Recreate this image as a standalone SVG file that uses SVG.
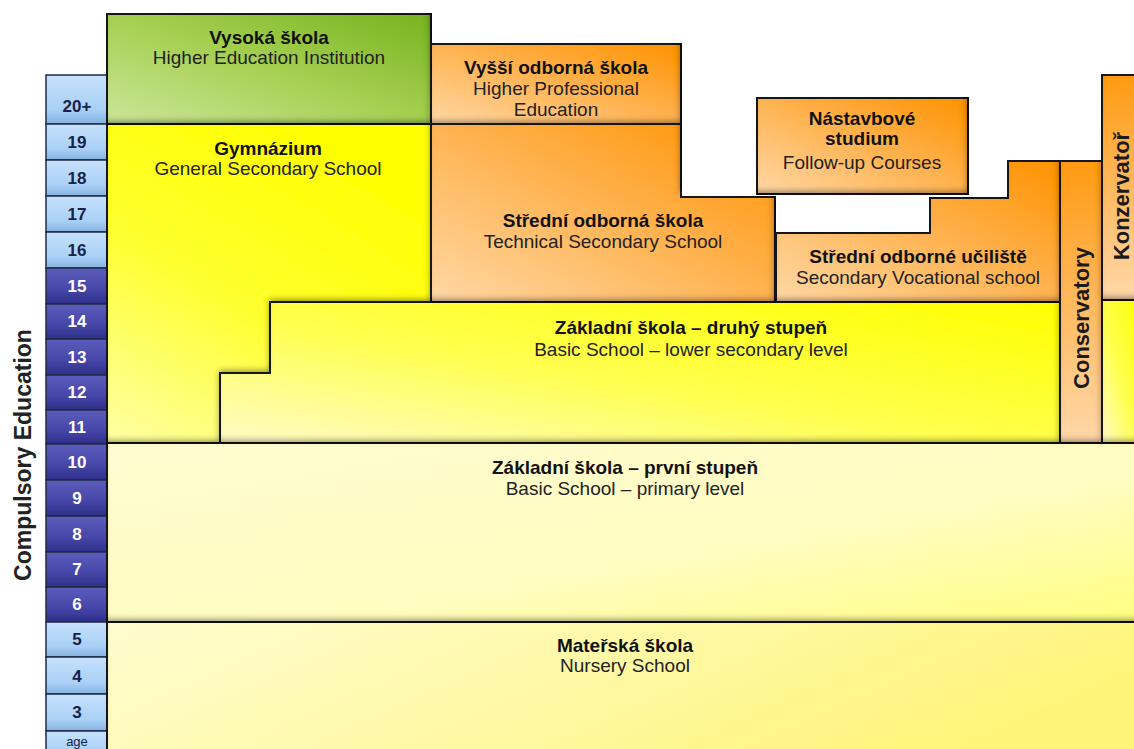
<svg xmlns="http://www.w3.org/2000/svg" width="1134" height="749" viewBox="0 0 1134 749">
<defs>
<style>
.t{font-family:"Liberation Sans",Arial,sans-serif;font-weight:bold;font-size:19px;fill:#111;text-anchor:middle}
.s{font-family:"Liberation Sans",Arial,sans-serif;font-size:19px;fill:#222;text-anchor:middle}
.v{font-family:"Liberation Sans",Arial,sans-serif;font-weight:bold;font-size:22px;fill:#1a1a1a;text-anchor:middle}
.box{stroke:#1b1b1b;stroke-width:2;filter:url(#ins)}
.cl{fill:url(#gLB);stroke:#1f2b45;stroke-width:1.5}
.cd{fill:url(#gDB);stroke:#1f2b45;stroke-width:1.5}
.al{font-family:"Liberation Sans",Arial,sans-serif;font-weight:bold;font-size:17px;fill:#16224a;text-anchor:middle}
.ad{font-family:"Liberation Sans",Arial,sans-serif;font-weight:bold;font-size:17px;fill:#ffffff;text-anchor:middle}
</style>
<filter id="ins" x="-0.1" y="-0.1" width="1.2" height="1.2">
<feFlood flood-color="#000" flood-opacity="0.75" result="f"/>
<feComposite in="f" in2="SourceAlpha" operator="out" result="inv"/>
<feGaussianBlur in="inv" stdDeviation="3"/>
<feOffset dx="-2" dy="-4" result="sh"/>
<feComposite in="sh" in2="SourceAlpha" operator="in" result="insh"/>
<feMerge><feMergeNode in="SourceGraphic"/><feMergeNode in="insh"/></feMerge>
</filter>
<linearGradient id="gGreen" x1="0" y1="1" x2="1" y2="0">
<stop offset="0" stop-color="#cce69a"/><stop offset="0.5" stop-color="#a6d052"/><stop offset="1" stop-color="#76b320"/>
</linearGradient>
<linearGradient id="gOr" x1="0" y1="1" x2="1" y2="0">
<stop offset="0" stop-color="#ffd8a6"/><stop offset="0.55" stop-color="#ffb04a"/><stop offset="1" stop-color="#ff9200"/>
</linearGradient>
<linearGradient id="gOrV" x1="0" y1="0" x2="0" y2="1">
<stop offset="0" stop-color="#ff9a12"/><stop offset="1" stop-color="#ffd8aa"/>
</linearGradient>
<linearGradient id="gGym" x1="0" y1="1" x2="0.6" y2="0">
<stop offset="0" stop-color="#ffffa8"/><stop offset="0.5" stop-color="#ffff30"/><stop offset="1" stop-color="#ffff00"/>
</linearGradient>
<linearGradient id="gZS2" x1="0" y1="1" x2="1" y2="0">
<stop offset="0" stop-color="#fffbc8"/><stop offset="0.45" stop-color="#ffff50"/><stop offset="1" stop-color="#ffff00"/>
</linearGradient>
<linearGradient id="gZS1" x1="0" y1="0" x2="1" y2="1">
<stop offset="0" stop-color="#fffcd2"/><stop offset="0.6" stop-color="#fffcc0"/><stop offset="1" stop-color="#ffff80"/>
</linearGradient>
<linearGradient id="gMS" x1="0" y1="0" x2="1" y2="0.3">
<stop offset="0" stop-color="#fffcd0"/><stop offset="0.5" stop-color="#fff9a8"/><stop offset="1" stop-color="#fff47a"/>
</linearGradient>
<linearGradient id="gLB" x1="0" y1="0" x2="0" y2="1">
<stop offset="0" stop-color="#c6e1fc"/><stop offset="0.7" stop-color="#a9d0f6"/><stop offset="1" stop-color="#86b2e0"/>
</linearGradient>
<linearGradient id="gDB" x1="0" y1="0" x2="0" y2="1">
<stop offset="0" stop-color="#5c5cbc"/><stop offset="0.6" stop-color="#4646a8"/><stop offset="1" stop-color="#2e2e88"/>
</linearGradient>
</defs>
<rect width="1134" height="749" fill="#ffffff"/>

<g id="ages">
<rect class="cl" x="46" y="75" width="61" height="49"/><text class="al" x="77" y="112">20+</text>
<rect class="cl" x="46" y="124" width="61" height="36"/><text class="al" x="77" y="148">19</text>
<rect class="cl" x="46" y="160" width="61" height="36"/><text class="al" x="77" y="184">18</text>
<rect class="cl" x="46" y="196" width="61" height="36"/><text class="al" x="77" y="220">17</text>
<rect class="cl" x="46" y="232" width="61" height="36"/><text class="al" x="77" y="256">16</text>
<rect class="cd" x="46" y="268" width="61" height="36"/><text class="ad" x="77" y="292">15</text>
<rect class="cd" x="46" y="304" width="61" height="35"/><text class="ad" x="77" y="327">14</text>
<rect class="cd" x="46" y="339" width="61" height="36"/><text class="ad" x="77" y="363">13</text>
<rect class="cd" x="46" y="375" width="61" height="35"/><text class="ad" x="77" y="398">12</text>
<rect class="cd" x="46" y="410" width="61" height="34"/><text class="ad" x="77" y="433">11</text>
<rect class="cd" x="46" y="444" width="61" height="36"/><text class="ad" x="77" y="468">10</text>
<rect class="cd" x="46" y="480" width="61" height="36"/><text class="ad" x="77" y="504">9</text>
<rect class="cd" x="46" y="516" width="61" height="36"/><text class="ad" x="77" y="540">8</text>
<rect class="cd" x="46" y="552" width="61" height="35"/><text class="ad" x="77" y="575">7</text>
<rect class="cd" x="46" y="587" width="61" height="35"/><text class="ad" x="77" y="610">6</text>
<rect class="cl" x="46" y="622" width="61" height="35"/><text class="al" x="77" y="645">5</text>
<rect class="cl" x="46" y="657" width="61" height="37"/><text class="al" x="77" y="682">4</text>
<rect class="cl" x="46" y="694" width="61" height="37"/><text class="al" x="77" y="718">3</text>
<rect class="cl" x="46" y="731" width="61" height="30"/><text x="77" y="746" style="font-family:'Liberation Sans',Arial,sans-serif;font-size:13px;fill:#16224a;text-anchor:middle">age</text>
</g>

<g id="compulsory">
<text transform="translate(31,455) rotate(-90)" style="font-family:'Liberation Sans',Arial,sans-serif;font-weight:bold;font-size:23px;fill:#222;text-anchor:middle">Compulsory Education</text>
</g>

<g id="materska-skola">
<rect class="box" x="107" y="622" width="1040" height="140" fill="url(#gMS)"/>
<text class="t" x="625" y="652">Mateřská škola</text>
<text class="s" x="625" y="672">Nursery School</text>
</g>

<g id="zakladni-prvni">
<rect class="box" x="107" y="443" width="1040" height="179" fill="url(#gZS1)"/>
<text class="t" x="625" y="474">Základní škola – první stupeň</text>
<text class="s" x="625" y="495">Basic School – primary level</text>
</g>

<g id="gymnazium">
<path class="box" d="M107,124 H431 V302 H270 V373 H220 V443 H107 Z" fill="url(#gGym)"/>
<text class="t" x="268" y="155">Gymnázium</text>
<text class="s" x="268" y="175">General Secondary School</text>
</g>

<g id="zakladni-druhy">
<path class="box" d="M270,302 H1060 V443 H220 V373 H270 Z" fill="url(#gZS2)"/>
<text class="t" x="691" y="334">Základní škola – druhý stupeň</text>
<text class="s" x="691" y="356">Basic School – lower secondary level</text>
</g>

<g id="vysoka-skola">
<rect class="box" x="107" y="14" width="324" height="110" fill="url(#gGreen)"/>
<text class="t" x="269" y="44">Vysoká škola</text>
<text class="s" x="269" y="64">Higher Education Institution</text>
</g>

<g id="vyssi-odborna">
<rect class="box" x="431" y="44" width="250" height="80" fill="url(#gOr)"/>
<text class="t" x="556" y="74">Vyšší odborná škola</text>
<text class="s" x="556" y="95">Higher Professional</text>
<text class="s" x="556" y="116">Education</text>
</g>

<g id="stredni-odborna-skola">
<path class="box" d="M431,124 H681 V197 H775 V302 H431 Z" fill="url(#gOr)"/>
<text class="t" x="603" y="227">Střední odborná škola</text>
<text class="s" x="603" y="248">Technical Secondary School</text>
</g>

<g id="nastavbove-studium">
<rect class="box" x="757" y="98" width="211" height="96" fill="url(#gOr)"/>
<text class="t" x="862" y="125">Nástavbové</text>
<text class="t" x="862" y="145">studium</text>
<text class="s" x="862" y="169">Follow-up Courses</text>
</g>

<g id="stredni-odborne-uciliste">
<path class="box" d="M776,233 H930 V198 H1008 V161 H1060 V302 H776 Z" fill="url(#gOr)"/>
<text class="t" x="918" y="263">Střední odborné učiliště</text>
<text class="s" x="918" y="284">Secondary Vocational school</text>
</g>

<g id="conservatory">
<rect class="box" x="1060" y="161" width="42" height="282" fill="url(#gOrV)"/>
<text class="v" transform="translate(1089,318) rotate(-90)">Conservatory</text>
</g>

<g id="konzervator">
<rect class="box" x="1102" y="300" width="40" height="143" fill="url(#gZS2)"/>
<rect class="box" x="1102" y="75" width="40" height="225" fill="url(#gOrV)"/>
<text class="v" transform="translate(1129,196) rotate(-90)">Konzervatoř</text>
</g>

<g id="connectors"/>
</svg>
